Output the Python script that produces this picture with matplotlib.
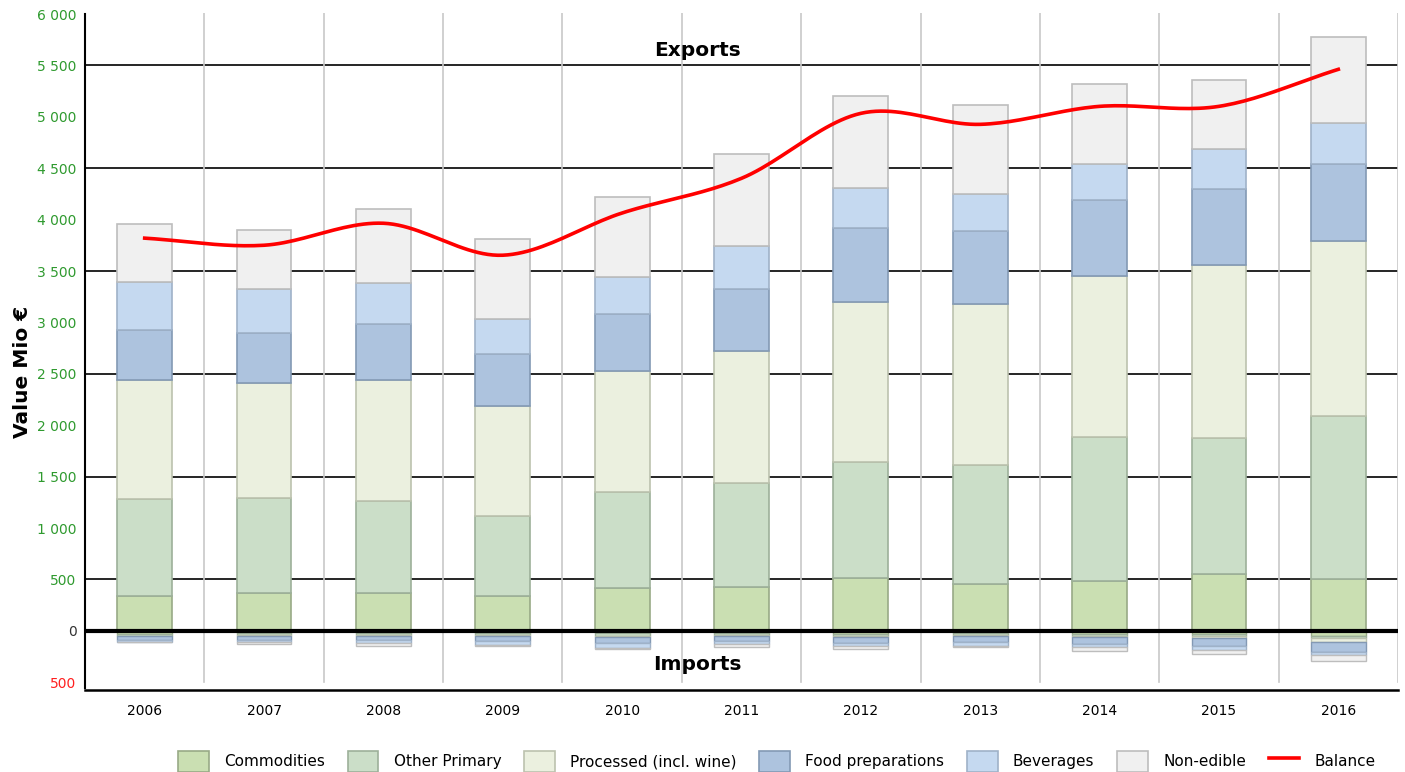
import numpy as np
import matplotlib
matplotlib.use("Agg")
import matplotlib.pyplot as plt
from matplotlib.patches import Patch
from matplotlib.lines import Line2D
from matplotlib.ticker import FixedLocator

# Dados (Mio €)
anos = ["2006", "2007", "2008", "2009", "2010", "2011",
        "2012", "2013", "2014", "2015", "2016"]

exp_commodities = [340, 369, 369, 340, 418, 428, 515, 457, 486, 554, 505]
exp_other_primary = [943, 924, 894, 778, 933, 1010, 1127, 1156, 1399, 1322, 1584]
exp_processed = [1157, 1117, 1177, 1069, 1176, 1283, 1555, 1565, 1565, 1681, 1701]
exp_food_prep = [485, 486, 543, 505, 554, 603, 719, 709, 739, 738, 748]
exp_beverages = [467, 428, 399, 340, 359, 417, 389, 360, 349, 389, 399]
exp_non_edible = [563, 573, 719, 778, 778, 895, 894, 865, 778, 671, 836]

imp_commodities = [-30, -25, -25, -25, -25, -25, -30, -25, -30, -30, -50]
imp_other_primary = [-15, -15, -15, -15, -20, -15, -20, -15, -15, -15, -15]
imp_processed = [-5, -10, -10, -10, -10, -10, -10, -10, -15, -25, -45]
imp_food_prep = [-35, -35, -40, -50, -60, -50, -60, -55, -70, -75, -95]
imp_beverages = [-25, -20, -25, -40, -50, -30, -25, -40, -30, -40, -30]
imp_non_edible = [0, -25, -35, -10, -10, -30, -30, -15, -40, -40, -55]

balanco = [3820, 3751, 3965, 3654, 4065, 4402, 5034, 4927, 5102, 5102, 5462]

nomes = ["Commodities", "Other Primary", "Processed (incl. wine)",
         "Food preparations", "Beverages", "Non-edible"]
cores = ["#cadfb2", "#cbdec8", "#ebf0df", "#adc3de", "#c5d9f0", "#f0f0f0"]
bordas = ["#98aa86", "#9db09a", "#bcc2ae", "#8399b4", "#9fb2c8", "#bdbdbd"]

exportacoes = [exp_commodities, exp_other_primary, exp_processed,
               exp_food_prep, exp_beverages, exp_non_edible]
importacoes = [imp_commodities, imp_other_primary, imp_processed,
               imp_food_prep, imp_beverages, imp_non_edible]


def suavizar(x, y, n=24):
    # Curva suavizada (Catmull-Rom) passando pelos pontos
    x = np.asarray(x, float)
    y = np.asarray(y, float)
    px = np.concatenate([[2 * x[0] - x[1]], x, [2 * x[-1] - x[-2]]])
    py = np.concatenate([[2 * y[0] - y[1]], y, [2 * y[-1] - y[-2]]])
    xs, ys = [], []
    t = np.linspace(0, 1, n, endpoint=False)
    for i in range(1, len(px) - 2):
        for p, out in ((px, xs), (py, ys)):
            p0, p1, p2, p3 = p[i - 1], p[i], p[i + 1], p[i + 2]
            out.extend(0.5 * (2 * p1 + (-p0 + p2) * t
                              + (2 * p0 - 5 * p1 + 4 * p2 - p3) * t**2
                              + (-p0 + 3 * p1 - 3 * p2 + p3) * t**3))
    xs.append(x[-1])
    ys.append(y[-1])
    return np.array(xs), np.array(ys)


fig = plt.figure(figsize=(14.05, 7.72), dpi=100)
ax = fig.add_axes([85 / 1405, 1 - 690 / 772, 1313 / 1405, 677 / 772])

x = np.arange(len(anos))
largura = 0.46

# Linhas de grade
for v in range(500, 6000, 1000):
    ax.axhline(v, color="black", linewidth=1.2, zorder=1)
for i in range(len(anos)):
    ax.axvline(i + 0.5, ymin=0.012, color="#c8c8c8", linewidth=1.2, zorder=1)

base = np.zeros(len(anos))
for vals, cor, borda in zip(exportacoes, cores, bordas):
    ax.bar(x, vals, largura, bottom=base, color=cor, edgecolor=borda,
           linewidth=1.2, zorder=2)
    base += np.array(vals)

base = np.zeros(len(anos))
for vals, cor, borda in zip(importacoes, cores, bordas):
    ax.bar(x, vals, largura, bottom=base, color=cor, edgecolor=borda,
           linewidth=1.0, zorder=2)
    base += np.array(vals)

ax.axhline(0, color="black", linewidth=3, zorder=3)

bx, by = suavizar(x, balanco)
ax.plot(bx, by, color="#ff0000", linewidth=2.6, zorder=4)

ax.text(4.63, 5650, "Exports", ha="center", va="center", fontsize=14.5,
        fontweight="bold", zorder=5)
ax.text(4.63, -330, "Imports", ha="center", va="center", fontsize=14.5,
        fontweight="bold", zorder=5)

ax.set_xlim(-0.5, len(anos) - 0.5)
ax.set_ylim(-575, 6010)

ticks = list(range(-500, 6001, 500))
ax.yaxis.set_major_locator(FixedLocator(ticks))
rotulos = [f"{abs(v):,}".replace(",", " ") for v in ticks]
ax.set_yticklabels(rotulos, fontsize=10)
for t, v in zip(ax.get_yticklabels(), ticks):
    if v < 0:
        t.set_color("#ff2020")
    elif v == 0:
        t.set_color("#333333")
    else:
        t.set_color("#2f9a2f")
ax.tick_params(axis="y", length=0, pad=6)

ax.set_xticks(x)
ax.set_xticklabels(anos, fontsize=10)
ax.tick_params(axis="x", length=0, pad=10)

ax.set_ylabel("Value Mio €", fontsize=14.5, fontweight="bold")
ax.yaxis.set_label_coords(-0.040, 0.47)

for lado in ["top", "right"]:
    ax.spines[lado].set_visible(False)
ax.spines["left"].set_linewidth(1.5)
ax.spines["bottom"].set_linewidth(1.8)
ax.spines["left"].set_bounds(-560, 6000)

alcas = [Patch(facecolor=c, edgecolor=b, linewidth=1.2)
         for c, b in zip(cores, bordas)]
alcas.append(Line2D([0], [0], color="#ff0000", linewidth=2.6))
fig.legend(alcas, nomes + ["Balance"], loc="lower center", ncol=7,
           frameon=False, fontsize=11, bbox_to_anchor=(0.553, -0.018),
           handlelength=2.0, handleheight=1.8, columnspacing=1.5,
           handletextpad=1.0)

fig.savefig("out.png", dpi=100)
